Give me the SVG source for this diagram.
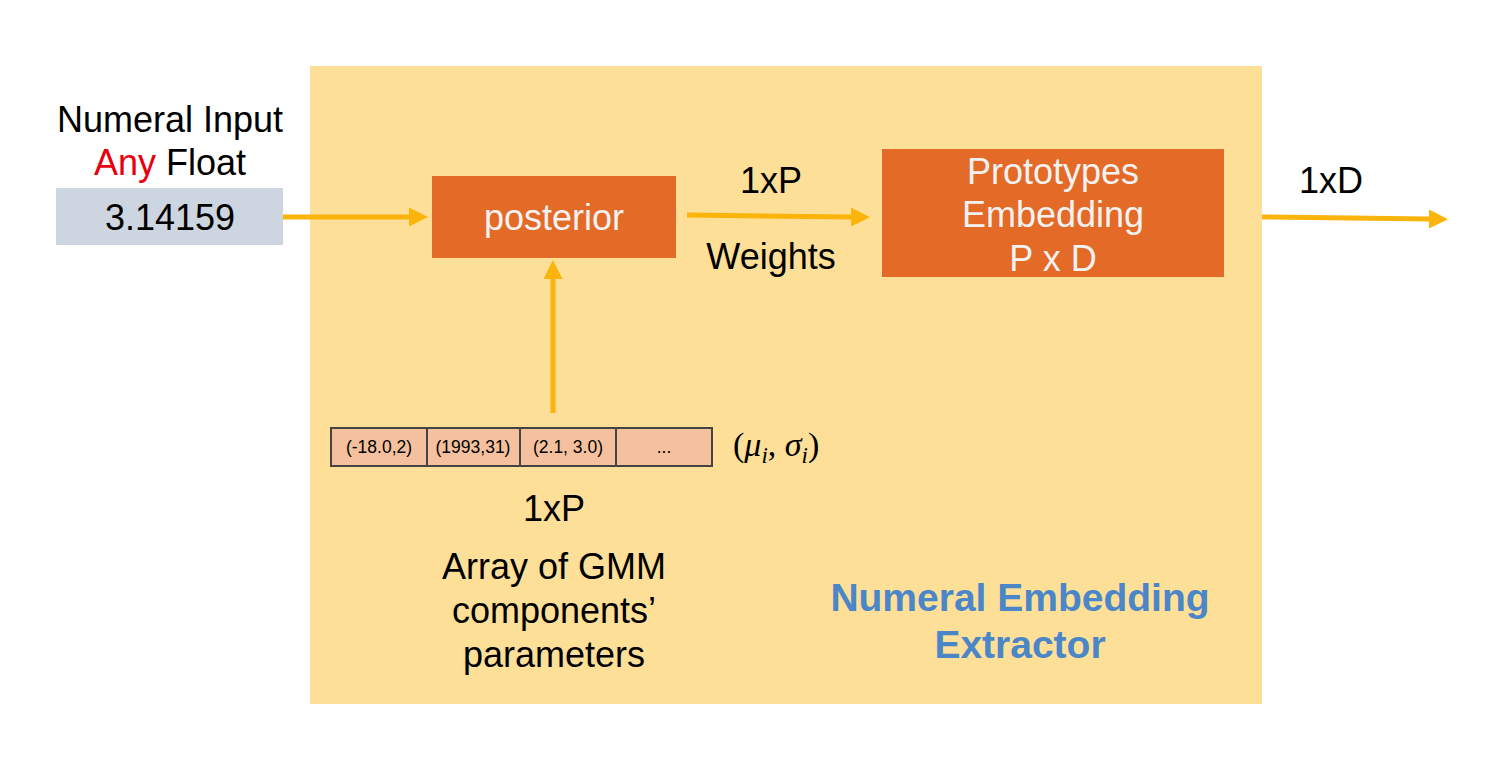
<svg xmlns="http://www.w3.org/2000/svg" width="1498" height="770" viewBox="0 0 1498 770">
<style>
.t{font-family:"Liberation Sans",Arial,Helvetica,sans-serif;font-size:36px;fill:#000;text-anchor:middle}
.w{fill:#F2F2F2}
.s{font-family:"Liberation Sans",Arial,sans-serif;font-size:17.5px;fill:#000;text-anchor:middle}
.b{font-family:"Liberation Sans",Arial,sans-serif;font-size:39px;font-weight:bold;fill:#4A86C8;text-anchor:middle}
.box{fill:#E46A28}
.arr{stroke:#FBB40B;stroke-width:5;fill:none;marker-end:url(#ah)}
.cell{fill:#F5C09D;stroke:#444;stroke-width:2}
</style>
<defs>
<marker id="ah" markerUnits="userSpaceOnUse" markerWidth="19" markerHeight="19" viewBox="0 -9.5 19 19" refX="0" refY="0" orient="auto">
<path d="M0,-9.5 L19,0 L0,9.5 z" fill="#FBB40B"/>
</marker>
</defs>
<rect width="1498" height="770" fill="#fff"/>
<g id="extractor">
<rect x="310" y="66" width="952" height="638" fill="#FDDF97"/>
<text class="b" x="1020" y="611">Numeral Embedding</text>
<text class="b" x="1020" y="658">Extractor</text>
</g>
<g id="input">
<text class="t" x="170" y="132">Numeral Input</text>
<text class="t" x="170" y="175"><tspan fill="#E8000E">Any</tspan> Float</text>
<rect x="56" y="188" width="227" height="57" fill="#CDD5E0"/>
<text class="t" x="170" y="230">3.14159</text>
</g>
<g id="posterior">
<rect class="box" x="432" y="176" width="244" height="82"/>
<text class="t w" x="554" y="230">posterior</text>
</g>
<g id="prototypes">
<rect class="box" x="882" y="149" width="342" height="128"/>
<text class="t w" x="1053" y="184">Prototypes</text>
<text class="t w" x="1053" y="227">Embedding</text>
<text class="t w" x="1053" y="271">P x D</text>
</g>
<g id="gmm-array">
<rect class="cell" x="331" y="428" width="96" height="38"/>
<rect class="cell" x="427" y="428" width="93" height="38"/>
<rect class="cell" x="520" y="428" width="96" height="38"/>
<rect class="cell" x="616" y="428" width="96" height="38"/>
<text class="s" x="379" y="453">(-18.0,2)</text>
<text class="s" x="473" y="453">(1993,31)</text>
<text class="s" x="568" y="453">(2.1, 3.0)</text>
<text class="s" x="664" y="453">...</text>
<text x="733" y="456" font-family="'Liberation Serif','Times New Roman',serif" font-size="34" fill="#000">(<tspan font-style="italic">μ</tspan><tspan font-style="italic" font-size="23" dy="7">i</tspan><tspan dy="-7">, </tspan><tspan font-style="italic">σ</tspan><tspan font-style="italic" font-size="23" dy="7">i</tspan><tspan dy="-7">)</tspan></text>
<text class="t" x="554" y="521">1xP</text>
<text class="t" x="554" y="579">Array of GMM</text>
<text class="t" x="554" y="623">components’</text>
<text class="t" x="554" y="667">parameters</text>
</g>
<g id="labels">
<text class="t" x="771" y="193">1xP</text>
<text class="t" x="771" y="269">Weights</text>
<text class="t" x="1331" y="193">1xD</text>
</g>
<g id="connectors">
<line class="arr" x1="283" y1="217" x2="409" y2="217"/>
<line class="arr" x1="687" y1="215" x2="851" y2="217"/>
<line class="arr" x1="1262" y1="217" x2="1429" y2="219"/>
<line class="arr" x1="553" y1="413" x2="553" y2="279"/>
</g>
</svg>
